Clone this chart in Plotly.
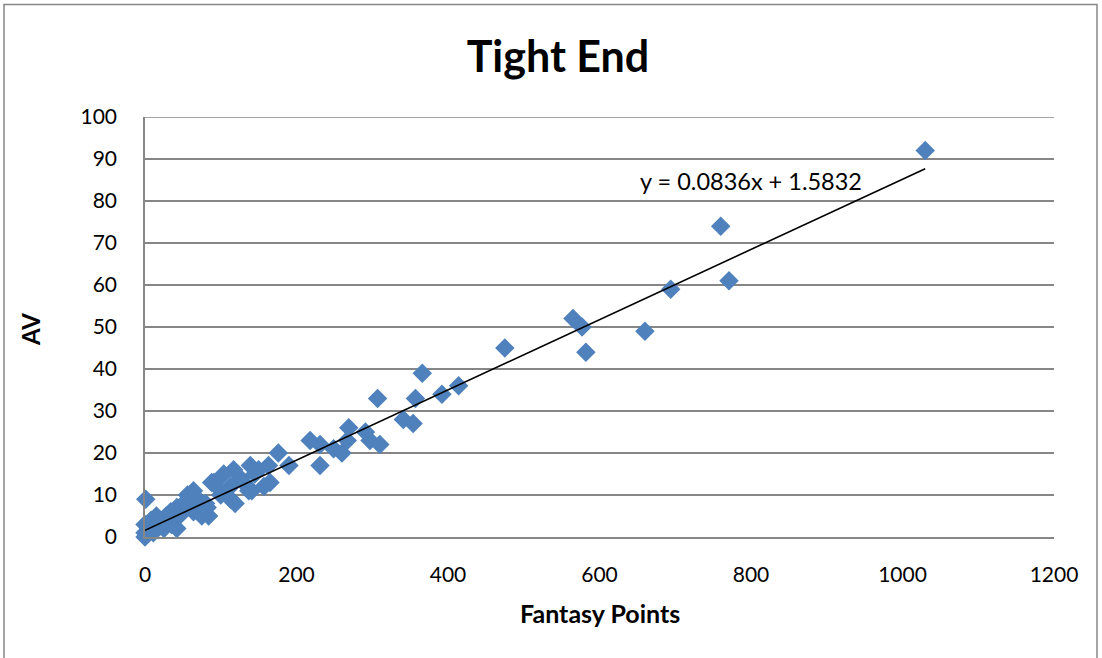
import plotly.graph_objects as go

# Data
fantasy_points = [1030, 760, 771, 694, 660, 565, 577, 582, 475, 414, 392, 366, 357, 307,
                  341, 354, 269, 291, 218, 231, 267, 297, 310, 249, 260, 190, 231, 176,
                  165, 163, 150, 139, 126, 117, 104, 91, 141, 157, 137, 113, 119, 113,
                  84, 82, 88, 80, 60, 64, 56, 51, 42, 34, 20, 11, 25, 42, 64, 75, 1,
                  0, 0, 0, 5, 8, 15, 30, 35, 45, 50, 70, 100, 95, 130, 145, 3, 18, 28]
av = [92, 74, 61, 59, 49, 52, 50, 44, 45, 36, 34, 39, 33, 33,
      28, 27, 26, 25, 23, 22, 23, 23, 22, 21, 20, 17, 17, 20,
      13, 17, 16, 17, 14, 16, 15, 13, 11, 12, 11, 9, 8, 12,
      5, 7, 13, 8, 9, 11, 10, 8, 7, 6, 4, 1, 2, 2, 6, 5, 9,
      0, 1, 3, 2, 4, 5, 4, 3, 5, 6, 9, 10, 12, 13, 15, 1, 3, 5]

slope = 0.0836
intercept = 1.5832
x_ticks = [0, 200, 400, 600, 800, 1000, 1200]
y_ticks = [0, 10, 20, 30, 40, 50, 60, 70, 80, 90, 100]

FONT = "Lato"
GRID = "#868686"

fig = go.Figure()
fig.add_trace(go.Scatter(
    x=fantasy_points, y=av, mode="markers",
    marker=dict(symbol="diamond", size=15, color="#4F81BD", line=dict(width=0)),
    cliponaxis=False, showlegend=False))

trend_x = [0, max(fantasy_points)]
trend_y = [slope * v + intercept for v in trend_x]
fig.add_trace(go.Scatter(x=trend_x, y=trend_y, mode="lines",
                         line=dict(color="black", width=1.6),
                         cliponaxis=False, showlegend=False))

fig.update_layout(
    width=1102, height=658,
    margin=dict(l=145, r=48, t=117, b=121),
    paper_bgcolor="white", plot_bgcolor="white",
    font=dict(family=FONT, color="black"),
    title=dict(text="<b>Tight End</b>", x=558 / 1102, xref="container",
               y=1 - 57 / 658, yanchor="middle", xanchor="center",
               font=dict(family=FONT, size=43, color="black")),
    xaxis=dict(range=[0, 1200], tickvals=x_ticks, showgrid=False, zeroline=False,
               showline=True, linecolor=GRID, linewidth=1.5,
               ticks="", ticklabelstandoff=18,
               tickfont=dict(family=FONT, size=21, color="black")),
    yaxis=dict(range=[0, 100], tickvals=y_ticks, showgrid=True, gridcolor=GRID,
               gridwidth=1.5, zeroline=False, showline=True, linecolor=GRID,
               linewidth=1.5, ticks="", ticklabelstandoff=22,
               tickfont=dict(family=FONT, size=21, color="black")),
    annotations=[
        dict(text="<b>Fantasy Points</b>", x=(600 - 145) / 909, y=(537 - 613) / 420,
             xref="paper", yref="paper", showarrow=False, xanchor="center",
             yanchor="middle", font=dict(family=FONT, size=25, color="black")),
        dict(text="<b>AV</b>", x=(30 - 145) / 909, y=(537 - 330) / 420,
             xref="paper", yref="paper", showarrow=False, textangle=-90,
             xanchor="center", yanchor="middle",
             font=dict(family=FONT, size=24, color="black")),
        dict(text="y = 0.0836x + 1.5832", x=(751 - 145) / 909, y=(537 - 181) / 420,
             xref="paper", yref="paper", showarrow=False, xanchor="center",
             yanchor="middle", font=dict(family=FONT, size=23.5, color="black")),
    ],
    shapes=[
        dict(type="rect", xref="paper", yref="paper",
             x0=(4 - 145) / 909, x1=(1097 - 145) / 909,
             y0=(537 - 665) / 420, y1=(537 - 4.5) / 420,
             line=dict(color=GRID, width=1.5), fillcolor="rgba(0,0,0,0)",
             layer="below"),
        dict(type="line", xref="paper", yref="y", x0=0, x1=1,
             y0=y_ticks[-1], y1=y_ticks[-1],
             line=dict(color=GRID, width=1.5), layer="below"),
    ],
)

fig.write_html("out.html", config={"displayModeBar": False},
               post_script="document.body.style.margin='0';document.body.style.overflow='hidden';")
